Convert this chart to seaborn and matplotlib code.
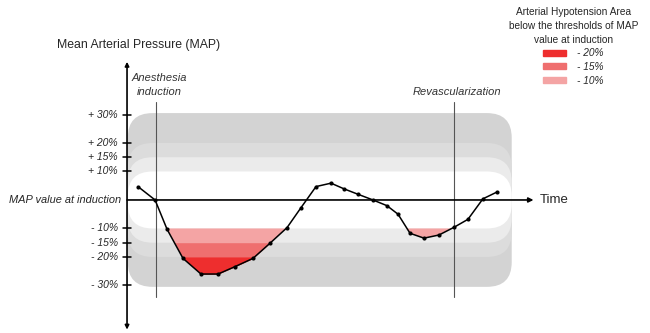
import numpy as np
import pandas as pd
import seaborn as sns
import matplotlib.pyplot as plt
from matplotlib.patches import FancyBboxPatch, Patch

# MAP change relative to the value at induction (%)
time = [0.73, 1.87, 2.67, 3.73, 4.93, 6.07, 7.2, 8.4, 9.53, 10.67, 11.6, 12.6,
        13.6, 14.47, 15.4, 16.4, 17.33, 18.07, 18.87, 19.8, 20.8, 21.8, 22.73,
        23.73, 24.67]
map_change = [4.7, 0, -10.3, -20.5, -26, -26, -23.4, -20.5, -15.2, -9.7, -2.7,
              4.7, 5.9, 3.9, 2.0, 0, -2.0, -5.0, -11.7, -13.4, -12.3, -9.6,
              -6.8, 0.4, 2.8]

tick_values = [30, 20, 15, 10, -10, -15, -20, -30]
tick_labels = ["+ 30%", "+ 20%", "+ 15%", "+ 10%", "- 10%", "- 15%", "- 20%", "- 30%"]

# background bands (half height) and their greys, outer to inner
band_limits = [30.5, 20, 15, 10]
band_colors = ["#d3d3d3", "#dcdcdc", "#ebebeb", "#ffffff"]

# hypotension thresholds and fill colours
thresholds = [-10, -15, -20]
fill_colors = ["#f4a4a4", "#ef6f6f", "#ee2e2e"]
legend_labels = ["- 20%", "- 15%", "- 10%"]

events = {"Anesthesia\ninduction": 1.93, "Revascularization": 21.8}

df = pd.DataFrame({"time": time, "map": map_change})

sns.set_theme(style="white")
plt.rcParams["font.family"] = ["Liberation Sans", "DejaVu Sans"]

fig = plt.figure(figsize=(6.5, 3.33), dpi=100)
ax = fig.add_axes([0, 0, 1, 1])

# stacked rounded bands
aspect = (1 / 2.85) / (1 / 15)
for lim, col in zip(band_limits, band_colors):
    box = FancyBboxPatch((0.05, -lim), 25.6, 2 * lim,
                         boxstyle="round,pad=0,rounding_size=1.65",
                         mutation_aspect=aspect, fc=col, ec="none", zorder=0)
    ax.add_patch(box)

# hypotension area, layered from shallow to deep
y = np.array(map_change)
for thr, col in zip(thresholds, fill_colors):
    ax.fill_between(time, y, thr, where=y < thr, interpolate=True,
                    color=col, lw=0, zorder=1)

# event lines
for label, t in events.items():
    ax.plot([t, t], [-34, 34.4], color="#555555", lw=0.8, zorder=2)
    ax.text(t + 0.2, 36.3, label, ha="center", va="bottom", style="italic",
            fontsize=8, color="#333333", linespacing=1.5)

sns.lineplot(data=df, x="time", y="map", ax=ax, color="black", lw=1.1,
             marker="o", markersize=3, markeredgewidth=0, zorder=4)
ax.set_xlim(-8.47, 34.87)
ax.set_ylim(-46.7, 70.2)
ax.axis("off")

# axes with arrows
ax.annotate("", xy=(27.1, 0), xytext=(0, 0),
            arrowprops=dict(arrowstyle="-|>", lw=1.2, color="black",
                            mutation_scale=7, shrinkA=0, shrinkB=0), zorder=3)
ax.annotate("", xy=(0, 48.5), xytext=(0, -45.5),
            arrowprops=dict(arrowstyle="<|-|>", lw=1.2, color="black",
                            mutation_scale=6, shrinkA=0, shrinkB=0), zorder=3)

for v, lab in zip(tick_values, tick_labels):
    ax.plot([-0.27, 0.27], [v, v], color="black", lw=1.1, zorder=3)
    ax.text(-0.6, v, lab, ha="right", va="center", style="italic", fontsize=7.5)

ax.text(-0.4, 0, "MAP value at induction", ha="right", va="center",
        style="italic", fontsize=7.9)
ax.text(27.5, 0, "Time", ha="left", va="center", fontsize=9.5)
ax.text(0.75, 54.5, "Mean Arterial Pressure (MAP)", ha="center", va="center",
        fontsize=8.8)

handles = [Patch(color=c) for c in fill_colors[::-1]]
leg = fig.legend(handles, legend_labels,
                 title="Arterial Hypotension Area\nbelow the thresholds of MAP\nvalue at induction",
                 loc="upper center", bbox_to_anchor=(0.882, 1.005), frameon=False,
                 prop={"style": "italic", "size": 7.3}, title_fontsize=7.3,
                 handlelength=2.2, handleheight=0.55, labelspacing=0.36,
                 handletextpad=1.1)
leg.get_title().set_multialignment("center")
leg.get_title().set_linespacing(1.45)

fig.savefig("out.png", dpi=100)
